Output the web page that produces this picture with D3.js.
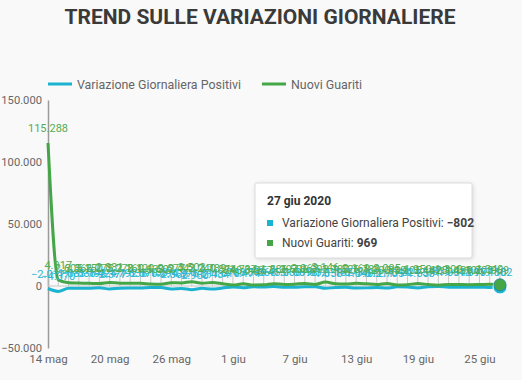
<!DOCTYPE html>
<html>
<head>
<meta charset="utf-8">
<script src="https://cdn.jsdelivr.net/npm/d3@7/dist/d3.min.js"></script>
<style>
  html, body { margin: 0; padding: 0; background: #f9f9f9; }
  svg { display: block; font-family: Roboto, "Noto Sans", sans-serif; }
</style>
</head>
<body>
<svg id="chart" width="522" height="380"></svg>
<script>
const title = "TREND SULLE VARIAZIONI GIORNALIERE";
const seriesNames = ["Variazione Giornaliera Positivi", "Nuovi Guariti"];
const startDate = "2020-05-14";
const dayCount = 45;
const variazionePositivi = [-2017, -4370, -1883, -1836, -1798, -1424, -2377, -1792, -1638, -1570, -1158, -1294, -2358, -1976, -2980, -1811, -2484, -1616, -708, -1474, -596, -868, -453, -1000, -1099, -615, -532, -1858, -1162, -1073, -1640, -1512, -1211, -1705, -644, -824, -1558, -571, -335, -1064, -918, -1017, -957, -1118, -802];
const nuoviGuariti = [115288, 4917, 2605, 2366, 2150, 2075, 2881, 2278, 2160, 2120, 1639, 1502, 2677, 2443, 3503, 2240, 2789, 1874, 848, 1737, 846, 957, 1886, 1297, 1506, 2062, 1293, 3146, 1780, 1526, 2169, 1789, 1200, 2095, 839, 1105, 1950, 1142, 625, 1300, 1199, 1106, 1200, 1349, 969];
const yTicks = [150000, 100000, 50000, 0, -50000];
const xTickLabels = ["14 mag", "20 mag", "26 mag", "1 giu", "7 giu", "13 giu", "19 giu", "25 giu"];
const tooltipTitle = "27 giu 2020";

const colors = ["#1cb3d0", "#45a648"];
const labelColors = ["#2bb8d3", "#52ad55"];

const it = d3.formatLocale({decimal: ",", thousands: ".", grouping: [3], currency: ["€", ""]});
const fmt = it.format(",");

const svg = d3.select("#chart");
const parse = d3.timeParse("%Y-%m-%d");
const d0 = parse(startDate);
const dates = d3.range(dayCount).map(i => d3.timeDay.offset(d0, i));

const x = d3.scaleTime().domain([dates[0], dates[dates.length - 1]]).range([48, 500]);
const y = d3.scaleLinear().domain([-50000, 150000]).range([348, 100]);

// title
svg.append("text").attr("x", 260).attr("y", 24).attr("text-anchor", "middle")
  .attr("font-size", 21).attr("font-weight", 700).attr("fill", "#3a3a3a").text(title);

// legend
const legendX = [48, 262];
seriesNames.forEach((n, i) => {
  svg.append("rect").attr("x", legendX[i]).attr("y", 82.5).attr("width", 24).attr("height", 3).attr("fill", colors[i]);
  svg.append("text").attr("x", legendX[i] + 29).attr("y", 88.5).attr("font-size", 12.4).attr("fill", "#666").text(n);
});

// y axis
const yAxis = d3.axisLeft(y).tickValues(yTicks).tickSize(0).tickPadding(6).tickFormat(fmt);
const yg = svg.append("g").attr("transform", "translate(48,0)").call(yAxis);
yg.select(".domain").attr("stroke", "#9a9a9a").attr("stroke-width", 1.5);
yg.selectAll("text").attr("font-size", 11.2).attr("fill", "#666").attr("font-family", "Roboto, sans-serif");

// x axis labels
const xAxis = d3.axisBottom(x).tickValues(xTickLabels.map((_, i) => dates[i * 6])).tickSize(0).tickPadding(6)
  .tickFormat((d, i) => xTickLabels[i]);
const xg = svg.append("g").attr("transform", "translate(0,349)").call(xAxis);
xg.select(".domain").remove();
xg.selectAll("text").attr("font-size", 11.5).attr("fill", "#666").attr("font-family", "Roboto, sans-serif");

// zero line + drop ticks
svg.append("line").attr("x1", 48).attr("x2", 505).attr("y1", y(0)).attr("y2", y(0))
  .attr("stroke", "#c8c8c8").attr("stroke-width", 1.2);
svg.append("g").selectAll("line").data(dates).join("line")
  .attr("x1", d => x(d)).attr("x2", d => x(d)).attr("y1", y(0)).attr("y2", y(0) - 15)
  .attr("stroke", "#c8c8c8").attr("stroke-width", 1);

// lines
const allSeries = [variazionePositivi, nuoviGuariti];
const line = d3.line().x((d, i) => x(dates[i])).y(d => y(d)).curve(d3.curveMonotoneX);
allSeries.forEach((s, k) => {
  svg.append("path").datum(s).attr("d", line).attr("fill", "none")
    .attr("stroke", colors[k]).attr("stroke-width", 3).attr("stroke-linejoin", "round");
});

// data labels
allSeries.forEach((s, k) => {
  svg.append("g").selectAll("text").data(s).join("text")
    .attr("x", (d, i) => x(dates[i])).attr("y", d => y(d) - 11)
    .attr("text-anchor", "middle").attr("font-size", 11).attr("fill", labelColors[k])
    .text(d => fmt(d));
});

// hover markers
const last = dayCount - 1;
svg.append("circle").attr("cx", x(dates[last])).attr("cy", y(variazionePositivi[last])).attr("r", 7)
  .attr("fill", colors[0]).attr("stroke", "#fff").attr("stroke-width", 1);
svg.append("circle").attr("cx", x(dates[last])).attr("cy", y(nuoviGuariti[last])).attr("r", 6)
  .attr("fill", colors[1]).attr("stroke", "#2c8a9a").attr("stroke-width", 1);

// tooltip
const tt = svg.append("g").attr("transform", "translate(255,183)");
tt.append("rect").attr("width", 217).attr("height", 75).attr("fill", "#fff")
  .attr("stroke", "#dcdcdc").attr("rx", 2).style("filter", "drop-shadow(1px 1px 2px rgba(0,0,0,0.12))");
tt.append("text").attr("x", 12).attr("y", 22).attr("font-size", 12).attr("font-weight", 700).attr("fill", "#333").text(tooltipTitle);
const ttVals = [variazionePositivi[last], nuoviGuariti[last]];
seriesNames.forEach((n, i) => {
  const yy = 40 + i * 20;
  tt.append("rect").attr("x", 12).attr("y", yy - 3).attr("width", 6).attr("height", 6).attr("fill", colors[i]);
  const t = tt.append("text").attr("x", 27).attr("y", yy + 4).attr("font-size", 12).attr("fill", "#444");
  t.append("tspan").text(n + ": ");
  t.append("tspan").attr("font-weight", 700).text(fmt(ttVals[i]));
});
</script>
</body>
</html>
